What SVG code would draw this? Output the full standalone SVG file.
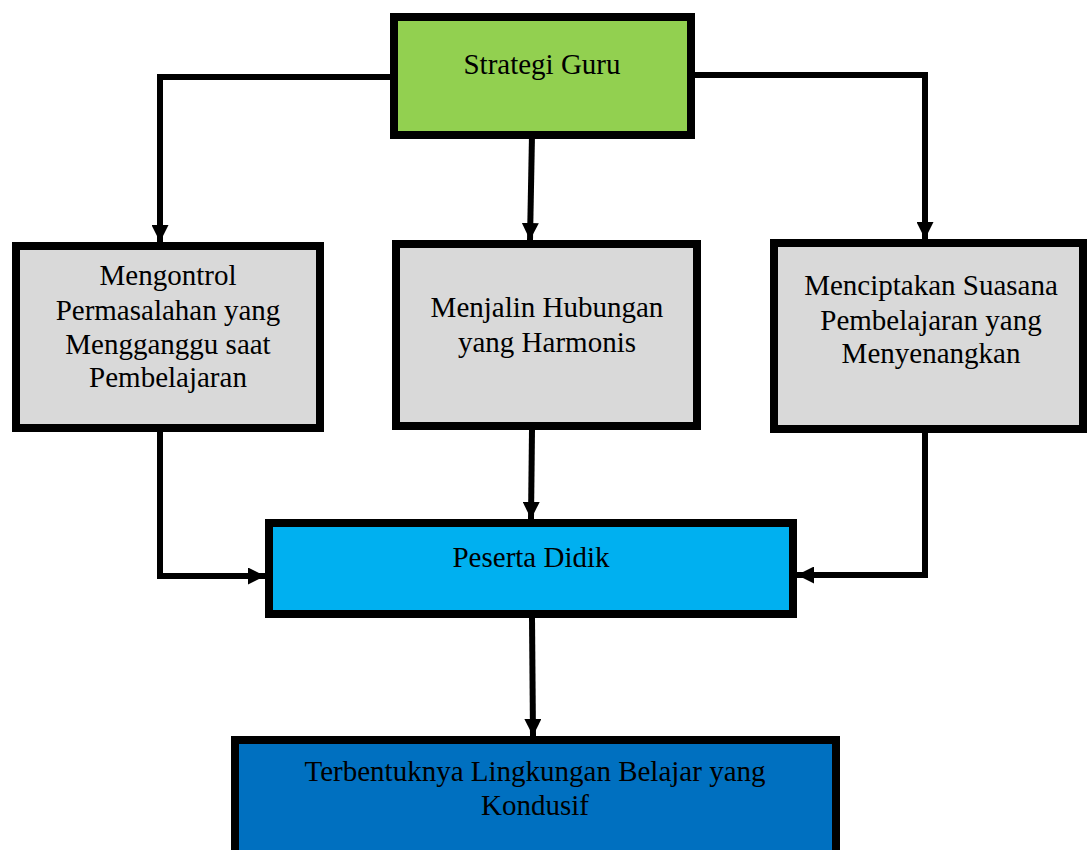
<svg xmlns="http://www.w3.org/2000/svg" width="1087" height="850" viewBox="0 0 1087 850">
<defs>
<style>
.box{stroke:#000;stroke-width:8}
.t{font-family:"Liberation Serif","Times New Roman",serif;font-size:29px;fill:#000;text-anchor:middle}
.c{fill:none;stroke:#000;stroke-width:6}
</style>
<marker id="ah" viewBox="0 0 10 10" refX="10" refY="5" markerWidth="17" markerHeight="17" markerUnits="userSpaceOnUse" orient="auto">
<path d="M0,0 L10,5 L0,10 z" fill="#000"/>
</marker>
</defs>
<rect width="1087" height="850" fill="#fff"/>
<g id="connectors">
<path class="c" d="M394,77 H160 V242" marker-end="url(#ah)"/>
<path class="c" d="M532,135 L530,240" marker-end="url(#ah)"/>
<path class="c" d="M691,75 H925 V239" marker-end="url(#ah)"/>
<path class="c" d="M160,428 V576 H265" marker-end="url(#ah)"/>
<path class="c" d="M532,430 L531,519" marker-end="url(#ah)"/>
<path class="c" d="M925,433 V575 H797" marker-end="url(#ah)"/>
<path class="c" d="M532,618 L533,736" marker-end="url(#ah)"/>
</g>
<g id="strategi">
<rect class="box" x="394" y="17" width="297" height="118" fill="#92D050"/>
<text class="t" x="542" y="74">Strategi Guru</text>
</g>
<g id="mengontrol">
<rect class="box" x="16" y="246" width="304" height="182" fill="#D9D9D9"/>
<text class="t" x="168" y="285">Mengontrol</text>
<text class="t" x="168" y="320">Permasalahan yang</text>
<text class="t" x="168" y="354">Mengganggu saat</text>
<text class="t" x="168" y="387">Pembelajaran</text>
</g>
<g id="menjalin">
<rect class="box" x="396" y="244" width="301" height="182" fill="#D9D9D9"/>
<text class="t" x="547" y="317">Menjalin Hubungan</text>
<text class="t" x="547" y="352">yang Harmonis</text>
</g>
<g id="menciptakan">
<rect class="box" x="774" y="243" width="309" height="186" fill="#D9D9D9"/>
<text class="t" x="931" y="295">Menciptakan Suasana</text>
<text class="t" x="931" y="330">Pembelajaran yang</text>
<text class="t" x="931" y="363">Menyenangkan</text>
</g>
<g id="peserta">
<rect class="box" x="269" y="523" width="524" height="91" fill="#00B0F0"/>
<text class="t" x="531" y="567">Peserta Didik</text>
</g>
<g id="terbentuknya">
<rect class="box" x="235" y="740" width="601" height="140" fill="#0070C0"/>
<text class="t" x="535" y="781">Terbentuknya Lingkungan Belajar yang</text>
<text class="t" x="535" y="815">Kondusif</text>
</g>
</svg>
